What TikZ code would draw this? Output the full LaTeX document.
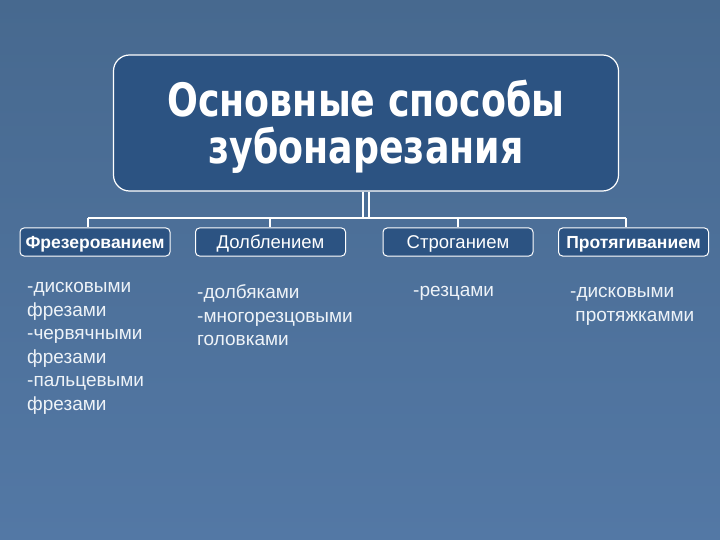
\documentclass[tikz,border=0pt]{standalone}
\usepackage{fontspec}
\setmainfont{Liberation Sans}
\newfontfamily\titlefont{DejaVu Sans}
\usetikzlibrary{shadings}
\definecolor{bgtop}{HTML}{47698F}
\definecolor{bgbot}{HTML}{5378A5}
\definecolor{boxblue}{HTML}{2C5382}
\definecolor{txtlight}{HTML}{EEF3F8}
\newcommand{\tline}[1]{\scalebox{0.79}[1]{#1}}
\begin{document}
\begin{tikzpicture}[x=1pt,y=-1pt,
  conn/.style={draw=white,line width=1.6pt},
  mainbox/.style={draw=white,line width=1.2pt,fill=boxblue,rounded corners=16pt,minimum width=505pt,minimum height=136pt,inner sep=0pt},
  catbox/.style={draw=white,line width=1pt,fill=boxblue,rounded corners=4pt,minimum width=150pt,minimum height=28pt,inner sep=0pt,text=white,text depth=0pt,text height=12pt},
  catbold/.style={font=\fontsize{17.5}{20}\selectfont\bfseries},
  catreg/.style={font=\fontsize{18.5}{21}\selectfont},
  itemtext/.style={anchor=north west,inner sep=0pt,align=left,text=txtlight,font=\fontsize{19}{23.5}\selectfont}]
\shade[top color=bgtop,bottom color=bgbot] (0,0) rectangle (720,540);
\useasboundingbox (0,0) rectangle (720,540);
\node[mainbox] (main) at (366,123) {};
\node[text=white,align=center,inner sep=0pt,font=\titlefont\fontsize{46}{47}\selectfont\bfseries] (title) at (366,127) {\tline{Основные способы}\\\tline{зубонарезания}};
\node[catbox,catbold] (c1) at (95,242) {Фрезерованием};
\node[catbox,catreg] (c2) at (270.5,242) {Долблением};
\node[catbox,catreg] (c3) at (458,242) {Строганием};
\node[catbox,catbold] (c4) at (633.5,242) {Протягиванием};
\coordinate (jL) at (88,218);
\coordinate (jR) at (626,218);
\coordinate (j2) at (270,218);
\coordinate (j3) at (458,218);
\draw[conn,line width=1.2pt] ([xshift=-3pt]main.south) -- ([xshift=-3pt]main.south |- jL);
\draw[conn,line width=1.2pt] ([xshift=3pt]main.south) -- ([xshift=3pt]main.south |- jL);
\draw[conn] (jL) -- (jR);
\draw[conn] (jL) -- (jL |- c1.north);
\draw[conn] (j2) -- (j2 |- c2.north);
\draw[conn] (j3) -- (j3 |- c3.north);
\draw[conn] (jR) -- (jR |- c4.north);
\node[itemtext] (t1) at (27,282.5) {-дисковыми\\фрезами\\-червячными\\фрезами\\-пальцевыми\\фрезами};
\node[itemtext] (t2) at (197,284.5) {-долбяками\\-многорезцовыми\\головками};
\node[itemtext] (t3) at (413,286.5) {-резцами};
\node[itemtext] (t4) at (570,287.5) {-дисковыми\\\ протяжкамми};
\end{tikzpicture}
\end{document}
